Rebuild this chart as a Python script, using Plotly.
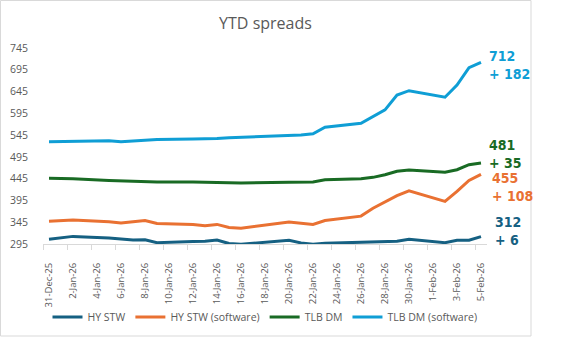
import plotly.graph_objects as go

# Business-day observations (weekends and holidays are bridged by the line)
dates = [
    "2025-12-31", "2026-01-02", "2026-01-05", "2026-01-06", "2026-01-07",
    "2026-01-08", "2026-01-09", "2026-01-12", "2026-01-13", "2026-01-14",
    "2026-01-15", "2026-01-16", "2026-01-20", "2026-01-21", "2026-01-22",
    "2026-01-23", "2026-01-26", "2026-01-27", "2026-01-28", "2026-01-29",
    "2026-01-30", "2026-02-02", "2026-02-03", "2026-02-04", "2026-02-05",
]

hy_stw = [306, 312.5, 309, 306.5, 304, 304.5, 298, 301, 301.5, 304, 296, 294.5, 303.5,
          297.5, 294.5, 296.5, 299, 299.5, 301, 301.5, 306, 298, 303.5, 303.5, 312]
hy_stw_sw = [347, 350, 346, 343, 346, 349, 342, 340, 337, 340, 333, 331, 345.7,
             343, 340, 349, 359, 377, 392, 406, 417, 393, 416, 441, 455]
tlb_dm = [446, 445, 441, 440, 439, 437.5, 437.5, 437.5, 437, 435, 435, 435, 437,
          437, 437.5, 442.5, 445, 448, 454, 462, 465, 460, 465.5, 477, 481]
tlb_dm_sw = [530, 531, 532, 530, 532, 533, 535, 536, 536, 537, 539, 540, 543,
             545, 548, 563, 572, 587, 603, 637, 647, 632, 660, 700, 712]

series_names = ["HY STW", "HY STW (software)", "TLB DM", "TLB DM (software)"]
series_values = [hy_stw, hy_stw_sw, tlb_dm, tlb_dm_sw]
series_colors = ["#156082", "#E97132", "#196B24", "#0F9ED5"]

# Axis ticks
x_tick_dates = [
    "2025-12-31", "2026-01-02", "2026-01-04", "2026-01-06", "2026-01-08",
    "2026-01-10", "2026-01-12", "2026-01-14", "2026-01-16", "2026-01-18",
    "2026-01-20", "2026-01-22", "2026-01-24", "2026-01-26", "2026-01-28",
    "2026-01-30", "2026-02-01", "2026-02-03", "2026-02-05",
]
x_tick_labels = [
    "31-Dec-25", "2-Jan-26", "4-Jan-26", "6-Jan-26", "8-Jan-26",
    "10-Jan-26", "12-Jan-26", "14-Jan-26", "16-Jan-26", "18-Jan-26",
    "20-Jan-26", "22-Jan-26", "24-Jan-26", "26-Jan-26", "28-Jan-26",
    "30-Jan-26", "1-Feb-26", "3-Feb-26", "5-Feb-26",
]
y_ticks = [295, 345, 395, 445, 495, 545, 595, 645, 695, 745]

# End-of-period labels: offsets (px) relative to the last point
label_shift = {
    "HY STW": (12, 5.6),
    "HY STW (software)": (9, -12.8),
    "TLB DM": (6, 9),
    "TLB DM (software)": (6, -2.6),
}

W, H = 579, 338
ML, MR, MT, MB = 43, 92, 48, 94
PW, PH = W - ML - MR, H - MT - MB

TEXT = "#595959"
BASE_FONT = "Open Sans, Lato, sans-serif"
NARROW_FONT = "Liberation Sans Narrow, DejaVu Sans Condensed, Roboto, sans-serif"

fig = go.Figure()
for name, vals, col in zip(series_names, series_values, series_colors):
    fig.add_trace(go.Scatter(
        x=dates, y=vals, name=name, mode="lines",
        line=dict(color=col, width=3),
        hoverinfo="skip",
    ))

annotations = []
for name, vals, col in zip(series_names, series_values, series_colors):
    dx, dy = label_shift[name]
    change = vals[-1] - vals[0]
    annotations.append(dict(
        x=dates[-1], y=vals[-1], xref="x", yref="y",
        text=f"<b>{vals[-1]:.0f}<br>+ {change:.0f}</b>",
        showarrow=False, xanchor="left", yanchor="middle", align="left",
        xshift=dx, yshift=dy,
        font=dict(family=NARROW_FONT, size=14, color=col),
    ))

# Chart frame
px2x = lambda p: (p - ML) / PW
px2y = lambda p: (H - MB - p) / PH
shapes = [dict(
    type="rect", xref="paper", yref="paper",
    x0=px2x(0.5), x1=px2x(531), y0=px2y(336), y1=px2y(0.5),
    line=dict(color="#D9D9D9", width=1), fillcolor="rgba(0,0,0,0)", layer="below",
)]

fig.update_layout(
    width=W, height=H,
    margin=dict(l=ML, r=MR, t=MT, b=MB, autoexpand=False),
    paper_bgcolor="white", plot_bgcolor="white",
    title=dict(text="YTD spreads", x=px2x(265.5), xref="paper", xanchor="center",
               y=1 - 23 / H, yanchor="middle",
               font=dict(family=BASE_FONT, size=16, color=TEXT)),
    font=dict(family=BASE_FONT, color=TEXT),
    showlegend=True,
    legend=dict(
        orientation="h", x=0.5, xanchor="center",
        y=px2y(317), yanchor="middle",
        font=dict(family=BASE_FONT, size=10.5, color=TEXT),
        bgcolor="rgba(0,0,0,0)", traceorder="normal",
    ),
    annotations=annotations,
    shapes=shapes,
    xaxis=dict(
        type="date",
        range=["2025-12-30 12:00", "2026-02-05 12:00"],
        tickmode="array", tickvals=x_tick_dates, ticktext=x_tick_labels,
        tickangle=-90, tickfont=dict(family=BASE_FONT, size=9.5, color=TEXT),
        ticks="outside", ticklen=14, tickcolor="rgba(0,0,0,0)",
        minor=dict(ticks="outside", ticklen=5, tickcolor="#D9D9D9",
                   tick0="2025-12-30 12:00", dtick=2 * 86400000, showgrid=False),
        showline=True, linecolor="#D9D9D9", linewidth=1,
        showgrid=False, zeroline=False, fixedrange=True,
    ),
    yaxis=dict(
        range=[295, 745],
        tickmode="array", tickvals=y_ticks,
        tickfont=dict(family=BASE_FONT, size=10.5, color=TEXT),
        ticks="outside", ticklen=12, tickcolor="rgba(0,0,0,0)",
        showline=False, showgrid=False, zeroline=False, fixedrange=True,
    ),
)

fig.write_html("out.html")
